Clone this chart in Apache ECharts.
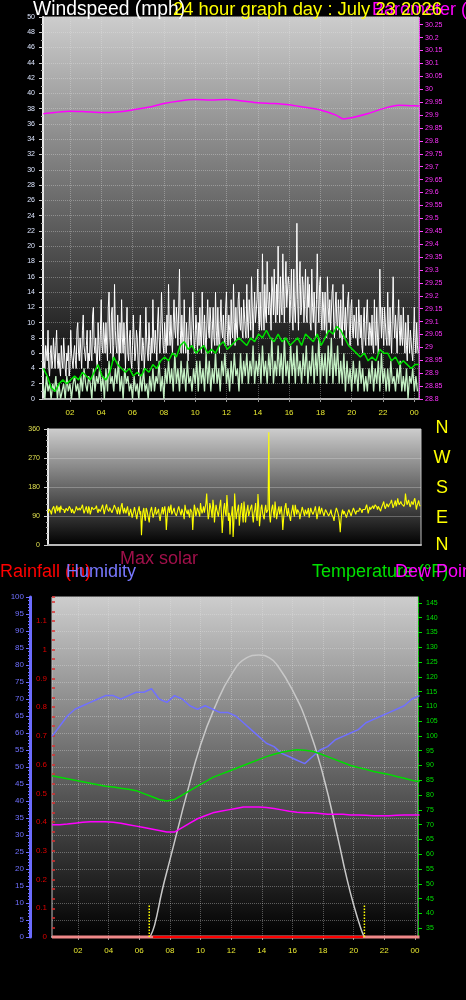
<!DOCTYPE html>
<html><head><meta charset="utf-8">
<script src="https://cdn.jsdelivr.net/npm/echarts@6/dist/echarts.min.js"></script>
<style>html,body{margin:0;padding:0;background:#000;}#c{width:466px;height:1000px;}</style>
</head><body><div id="c"></div>
<script>
// ---------- DATA ----------
const hourTicks = [2,4,6,8,10,12,14,16,18,20,22,24];

// wind gust (mph), 3-minute samples from 00:18
const gustStart = 0.3, gustStep = 0.05;
const gust = [
 9,5,4,7,6,5,9,4,3,6,7,4,5,8,6,4,7,9,5,4,
 6,4,3,7,5,4,8,6,4,3,6,5,7,3,4,9,6,5,4,6,
 7,5,4,9,10,6,5,8,6,4,9,11,7,6,5,7,9,4,6,5,
 9,6,5,11,12,7,6,8,5,4,10,7,5,9,13,7,6,10,8,6,
 10,7,5,12,14,8,6,11,12,5,7,15,9,7,6,11,8,5,10,6,
 13,8,6,10,7,4,9,12,6,5,8,9,5,4,7,11,8,5,6,9,
 8,5,3,9,11,6,5,8,7,4,6,12,8,6,5,10,7,5,8,6,
 13,8,6,9,7,5,10,12,8,6,9,14,10,7,6,10,8,6,11,7,
 15,9,7,11,8,6,10,13,9,8,12,10,7,12,17,9,6,11,8,6,
 13,8,6,10,7,5,9,12,8,7,10,14,9,6,8,11,9,6,10,7,
 12,8,6,14,9,7,11,8,6,10,13,9,8,12,10,6,9,12,8,7,
 14,9,7,12,8,6,10,13,9,8,11,8,7,12,14,9,7,11,9,7,
 13,9,8,15,10,7,12,9,8,13,14,10,9,12,9,8,13,11,9,8,
 15,10,8,13,11,9,16,12,8,11,14,10,10,13,17,11,9,14,10,9,
 19,12,9,15,11,10,18,13,11,14,12,9,16,14,11,17,12,10,15,11,
 20,13,10,16,12,11,19,14,10,15,18,12,12,16,15,10,13,17,11,9,
 17,12,10,14,23,13,9,15,18,11,12,16,15,10,13,17,11,10,16,12,
 15,10,9,17,12,10,14,11,8,13,19,13,10,15,16,11,9,14,12,9,
 14,10,8,16,12,10,13,9,9,14,15,10,8,12,14,10,9,13,11,8,
 13,9,7,15,11,9,12,8,8,13,14,9,7,12,13,9,8,11,10,8,
 12,8,7,13,10,8,11,7,6,10,12,8,7,11,13,9,7,10,9,7,
 11,7,6,13,9,7,12,8,6,10,17,11,8,12,9,7,12,10,8,7,
 14,9,7,12,8,6,11,16,10,8,11,9,6,10,13,9,7,11,8,7,
 12,8,6,10,7,5,11,8,6,9,9,6,5,8,12,8,6,10,7,6
];
// wind speed raw (mph), 6-minute samples from 00:18
const windStart = 0.3, windStep = 0.1;
const windRaw = [
 2,0,3,1,2,0,2,1,3,0,
 2,0,1,2,0,3,1,2,0,2,
 3,1,2,0,3,1,4,2,1,3,
 2,0,4,1,3,2,4,1,3,0,
 4,1,5,2,3,1,4,2,5,1,
 3,0,4,2,3,1,2,0,3,1,
 2,0,3,1,4,1,2,0,3,1,
 4,1,3,2,5,1,3,0,4,2,
 5,2,4,1,6,2,4,1,5,2,
 4,1,5,2,3,1,4,2,5,1,
 5,2,4,1,6,2,5,1,4,2,
 6,2,4,1,5,3,6,2,4,1,
 5,2,6,3,4,1,6,2,5,3,
 6,2,5,3,7,2,5,3,6,2,
 7,3,5,2,6,3,8,2,5,3,
 7,3,6,2,8,3,5,2,7,3,
 6,2,7,3,5,2,6,3,7,2,
 5,3,7,2,6,3,8,2,6,3,
 6,2,7,3,8,2,6,3,7,2,
 5,2,6,1,5,2,4,1,5,2,
 4,1,5,2,4,1,3,1,4,2,
 5,1,4,2,5,1,6,2,4,1,
 4,1,5,2,3,1,4,2,5,1,
 3,1,4,0,3,2,4,1,3,1
];
// average wind speed (mph), 15-minute samples from 00:18
const avgStart = 0.3, avgStep = 0.25;
const windAvg = [
 4,3,1.5,1, 2,2.5,2,2.5, 3,2.5,3.5,3, 2.5,3.5,4.5,3,
 2.5,3.5,5.5,4.5, 4,3.5,4,3, 3.5,3,4,3.5, 4.5,4,5,5.5,
 5,6,5.5,7, 7.5,6.5,7,6, 6.5,7,6,6.5, 6,7,7.5,6.5,
 7,7.5,8,7.5, 7,8,7.5,8.5, 8,9,8,7.5, 8.5,7.5,8,7,
 7.5,8,7,8.5, 8,7.5,8.5,7, 8,9,8.5,9.5, 9,8,7,6.5,
 6,5.5,6,5, 5.5,5,6.5,6, 6,5,5.5,4.5, 5,4.5,4,4.5, 4.5
];
// barometer (inHg)
const baroTimes = [0.3,1,2,3,4,5,6,7,8,9,10,11,12,13,14,15,16,17,18,19,19.5,20,21,22,23,24,24.3];
const baro = [29.905,29.91,29.915,29.913,29.91,29.912,29.92,29.93,29.945,29.955,29.96,29.958,29.96,29.955,29.948,29.945,29.94,29.93,29.92,29.9,29.885,29.89,29.905,29.925,29.938,29.936,29.935];
// wind direction (degrees), 3-minute samples from 00:18
const dirStart = 0.3, dirStep = 0.05;
const windDir = [
 100,112,118,104,95,110,112,120,108,98,115,122,105,110,118,100,122,112,108,116,
 110,100,96,114,118,106,104,120,125,110,100,112,115,98,92,108,120,114,108,102,
 115,108,102,118,125,110,98,106,112,120,105,98,120,112,95,104,118,122,110,104,
 105,115,122,108,100,112,115,104,108,118,125,110,96,102,118,126,112,106,104,116,
 120,110,100,108,115,124,130,112,105,96,118,110,95,108,122,130,108,98,115,120,
 98,110,120,102,90,85,112,100,85,96,105,118,118,92,80,100,110,120,95,105,
 30,80,105,115,88,75,115,108,95,82,70,100,110,118,100,85,85,105,118,95,
 90,105,112,88,75,95,105,118,95,108,120,100,47,85,110,120,100,112,125,95,
 95,108,115,100,105,90,88,112,120,108,100,92,112,118,95,80,125,110,108,96,
 110,95,85,112,118,102,47,90,125,115,90,100,115,108,105,88,130,112,98,108,
 120,100,95,130,160,110,80,95,130,118,105,85,140,120,70,100,125,110,100,88,
 90,125,140,95,37,80,115,130,100,90,155,120,75,100,33,88,95,120,25,70,
 160,115,80,100,100,125,60,88,115,130,95,70,135,110,70,95,110,125,90,100,
 100,118,125,90,70,100,110,130,90,75,158,120,58,85,115,125,100,88,80,110,
 125,100,95,110,350,90,70,100,115,125,100,85,135,110,80,95,110,120,95,105,
 120,95,47,80,105,120,130,100,90,115,115,85,75,100,110,125,100,88,125,110,
 95,110,115,100,80,95,105,118,120,100,90,110,110,95,100,115,85,100,115,105,
 105,95,90,110,120,100,80,95,110,120,95,100,115,105,100,90,88,110,112,100,
 100,90,85,100,110,95,95,85,75,95,105,115,115,100,90,70,40,80,100,110,
 95,105,110,100,85,95,100,110,115,105,90,100,105,115,120,110,95,105,110,100,
 105,115,120,108,100,110,115,105,110,118,125,112,98,108,118,110,108,115,122,112,
 115,125,130,118,110,120,125,115,105,115,120,128,135,120,112,120,128,122,118,125,
 125,132,140,128,115,122,130,138,120,128,145,132,125,130,135,128,130,125,120,128,
 160,140,125,132,140,128,118,126,135,130,125,138,145,130,110,122,130,138,125,120
];
// humidity (%), temperature (°F), dew point (°F): 30-minute samples from 00:18
const thStart = 0.3, thStep = 0.5;
const humidity = [59,62,65,67,68,69,70,71,71,70,71,72,72,73,70,69,71,70,68,67,68,67,66,66,65,63,61,59,57,56,54,53,52,51,53,55,56,58,59,60,61,63,64,65,66,67,68,70,71];
const temperature = [86.5,86,85.5,85,84.5,84,83.5,83,82.7,82.3,82,81.5,80.5,79.5,78.5,78,78.5,80,81.5,83,84.5,86,87,88,89,90,91,92,93,93.8,94.5,95,95.3,95.2,94.8,94,93,92,91,90,89.3,88.7,88,87.5,87,86.3,85.7,85,84.5];
const dewPoint = [70,70,70.2,70.5,70.8,71,71,71,70.8,70.5,70,69.5,69,68.5,68,67.5,67.5,69,70.5,72,73,74,74.5,75,75.5,76,76,76,75.8,75.5,75,74.5,74.2,74,74,73.8,73.5,73.5,73.5,73.3,73.3,73.2,73,73,73,73.2,73.3,73.3,73.3];
// max solar (W/m²)
const solarTimes = [6.7,7,7.5,8,8.5,9,10,11,12,13,13.8,14.5,15,16,17,18,19,19.5,20,20.5,20.7];
const maxSolar = [0,42,166,272,378,484,678,819,925,985,995,985,960,872,748,572,342,219,113,25,0];
const solarNow = [[6.9,0],[20.6,0]];
const rainfall = [[0.3,0],[24.3,0]];
const sunTimes = [6.65, 20.7];

// ---------- CHART ----------
const F = '"Liberation Sans", Arial, sans-serif';
const seq = (s, st, arr) => arr.map((v,i) => [+(s + i*st).toFixed(3), v]);
const pair = (xs, ys) => xs.map((x,i) => [x, ys[i]]);
const hh = v => { const h = Math.round(v) % 24; return (h < 10 ? '0' : '') + h; };
const grad = () => new echarts.graphic.LinearGradient(0,0,0,1,[{offset:0,color:'#cdcdcd'},{offset:1,color:'#000000'}]);
const gridLine = {show:true, lineStyle:{color:'rgba(230,230,230,0.35)', type:'dotted', width:1}};

const chart = echarts.init(document.getElementById('c'), null, {renderer:'canvas'});

function xAx(gi, min, max, showLabel) {
  return {
    gridIndex: gi, type:'value', min, max,
    axisLine:{show:true, lineStyle:{color:'#b8b8b8', width:2}},
    axisTick:{show:showLabel, customValues: hourTicks, length:3, lineStyle:{color:'#999'}},
    axisLabel:{show:showLabel, customValues: hourTicks, formatter: hh, color:'#e8e830', fontSize:8, fontFamily:F, margin:10},
    splitLine: showLabel ? gridLine : {show:false}
  };
}
const tempTicks = [];
for (let t = 35; t <= 145; t += 5) tempTicks.push(t);

const option = {
  backgroundColor:'#000',
  animation:false,
  grid:[
    {left:43, top:17, width:376, height:382, show:true, backgroundColor:grad(), borderColor:'#c0c0c0', borderWidth:1},
    {left:48, top:429, width:373, height:116, show:true, backgroundColor:grad(), borderColor:'#c0c0c0', borderWidth:1},
    {left:52, top:597, width:366, height:340, show:true, backgroundColor:grad(), borderColor:'#c0c0c0', borderWidth:1}
  ],
  xAxis:[ xAx(0, 0.28, 24.3, true), xAx(1, 0.28, 24.3, false), xAx(2, 0.3, 24.2, true) ],
  yAxis:[
    {gridIndex:0, type:'value', min:0, max:50, interval:2, position:'left',
     axisLine:{show:true, lineStyle:{color:'#e8e8e8', width:2}},
     axisTick:{show:true, length:4, lineStyle:{color:'#ccc'}},
     minorTick:{show:true, splitNumber:2, length:2, lineStyle:{color:'#aaa'}},
     axisLabel:{color:'#dde6ff', fontSize:7, fontFamily:F, margin:8},
     splitLine:gridLine},
    {gridIndex:0, type:'value', min:28.8, max:30.28, interval:0.05, position:'right',
     axisLine:{show:true, lineStyle:{color:'#ff44ff', width:1, type:'dotted'}},
     axisTick:{show:true, length:4, lineStyle:{color:'#ff44ff'}},
     axisLabel:{color:'#ff33ff', fontSize:7, fontFamily:F, margin:6, showMaxLabel:false,
       formatter: v => String(+v.toFixed(2))},
     splitLine:{show:false}},
    {gridIndex:1, type:'value', min:0, max:360, interval:90, position:'left',
     axisLine:{show:true, lineStyle:{color:'#e8e8e8', width:2}},
     axisTick:{show:true, length:4, lineStyle:{color:'#ccc'}},
     minorTick:{show:true, splitNumber:5, length:2, lineStyle:{color:'#aaa'}},
     axisLabel:{color:'#e0e050', fontSize:7, fontFamily:F, margin:8},
     splitLine:{show:true, lineStyle:{color:'rgba(230,230,230,0.3)', width:1}}},
    {gridIndex:2, type:'value', min:0, max:100, interval:5, position:'left', offset:22,
     axisLine:{show:true, lineStyle:{color:'#6c6cff', width:3}},
     axisTick:{show:true, length:4, lineStyle:{color:'#6c6cff'}},
     minorTick:{show:true, splitNumber:5, length:2, lineStyle:{color:'#6c6cff'}},
     axisLabel:{color:'#7070ff', fontSize:8, fontFamily:F, margin:6},
     splitLine:gridLine},
    {gridIndex:2, type:'value', min:0, max:1.183, interval:0.1, position:'left', offset:0,
     axisLine:{show:false},
     axisTick:{show:true, inside:true, length:3, lineStyle:{color:'#e03030', width:1.5}},
     minorTick:{show:true, splitNumber:3, length:3, lineStyle:{color:'#e03030', width:1.5}},
     axisLabel:{color:'#dd0000', fontSize:8, fontFamily:F, margin:5, showMaxLabel:false,
       formatter: v => String(+v.toFixed(1))},
     splitLine:{show:false}},
    {gridIndex:2, type:'value', min:32, max:147, position:'right',
     axisLine:{show:true, lineStyle:{color:'#00c000', width:1, type:'dashed'}},
     axisTick:{show:true, customValues: tempTicks, length:4, lineStyle:{color:'#00e000'}},
     axisLabel:{customValues: tempTicks, color:'#00e000', fontSize:7, fontFamily:F, margin:8},
     splitLine:{show:false}},
    {gridIndex:2, type:'value', min:0, max:1200, show:false}
  ],
  series:[
    {type:'line', xAxisIndex:0, yAxisIndex:0, data: seq(gustStart, gustStep, gust), symbol:'none', lineStyle:{color:'#ffffff', width:1}, silent:true, z:2},
    {type:'line', xAxisIndex:0, yAxisIndex:0, data: seq(windStart, windStep, windRaw), symbol:'none', lineStyle:{color:'#c4f0c4', width:1.3}, silent:true, z:3},
    {type:'line', xAxisIndex:0, yAxisIndex:0, data: seq(avgStart, avgStep, windAvg), symbol:'none', lineStyle:{color:'#00e000', width:1.5}, silent:true, z:4},
    {type:'line', xAxisIndex:0, yAxisIndex:1, data: pair(baroTimes, baro), symbol:'none', smooth:0.3, lineStyle:{color:'#ff00ff', width:1.5}, silent:true, z:5},
    {type:'line', xAxisIndex:1, yAxisIndex:2, data: seq(dirStart, dirStep, windDir), symbol:'none', lineStyle:{color:'#ffff00', width:1.1}, silent:true},
    {type:'line', xAxisIndex:2, yAxisIndex:6, data: pair(solarTimes, maxSolar), symbol:'none', smooth:true, lineStyle:{color:'#c8c8c8', width:1.5}, silent:true},
    {type:'line', xAxisIndex:2, yAxisIndex:4, data: rainfall, symbol:'none', lineStyle:{color:'#f08888', width:3}, silent:true, clip:false},
    {type:'line', xAxisIndex:2, yAxisIndex:6, data: solarNow, symbol:'none', lineStyle:{color:'#ff0000', width:2}, silent:true, clip:false},
    {type:'line', xAxisIndex:2, yAxisIndex:3, data: seq(thStart, thStep, humidity), symbol:'none', lineStyle:{color:'#7070ff', width:1.5}, silent:true},
    {type:'line', xAxisIndex:2, yAxisIndex:5, data: seq(thStart, thStep, temperature), symbol:'none', lineStyle:{color:'#00dd00', width:1.5}, silent:true},
    {type:'line', xAxisIndex:2, yAxisIndex:5, data: seq(thStart, thStep, dewPoint), symbol:'none', lineStyle:{color:'#ff00ff', width:1.5}, silent:true},
    ...sunTimes.map(t => ({type:'line', xAxisIndex:2, yAxisIndex:3, data:[[t,0],[t,9.5]], symbol:'none', lineStyle:{color:'#ffff00', width:1.5, type:'dotted'}, silent:true}))
  ],
  graphic:[
    {type:'text', x:33, y:10, style:{text:'Windspeed (mph)', fill:'#ffffff', font:'19.3px '+F, verticalAlign:'middle'}},
    {type:'text', x:372, y:10, style:{text:'Barometer (inHg)', fill:'#ff00ff', font:'18px '+F, verticalAlign:'middle'}},
    {type:'text', x:173, y:10, style:{text:'24 hour graph day : July 23 2026', fill:'#ffff00', font:'18.4px '+F, verticalAlign:'middle'}},
    ...['N','W','S','E','N'].map((s,i) => ({type:'text', x:442, y:[428.5,458.5,488.5,518.5,545][i], style:{text:s, fill:'#ffff00', font:'18px '+F, align:'center', verticalAlign:'middle'}})),
    {type:'text', x:120, y:559, style:{text:'Max solar', fill:'#a0104a', font:'18px '+F, verticalAlign:'middle'}},
    {type:'text', x:0, y:572, style:{text:'Rainfall (in)', fill:'#ff0000', font:'18px '+F, verticalAlign:'middle'}},
    {type:'text', x:66, y:572, style:{text:'Humidity', fill:'#7878ff', font:'18px '+F, verticalAlign:'middle'}},
    {type:'text', x:312, y:572, style:{text:'Temperature (°F)', fill:'#00e000', font:'18px '+F, verticalAlign:'middle'}},
    {type:'text', x:395, y:572, style:{text:'Dew Point (°F)', fill:'#ff00ff', font:'18px '+F, verticalAlign:'middle'}}
  ]
};
chart.setOption(option);
</script>
</body></html>
